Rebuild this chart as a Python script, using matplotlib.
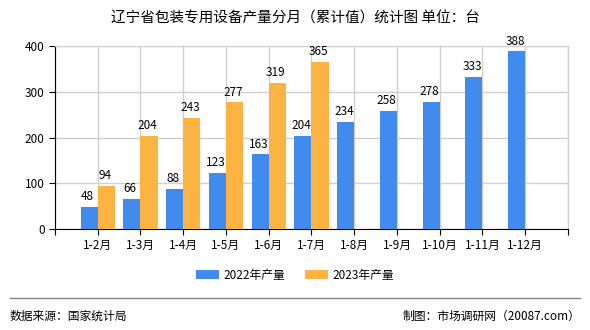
import numpy as np
import matplotlib.pyplot as plt

plt.rcParams['font.family'] = ['Noto Sans CJK SC', 'DejaVu Sans']

# 数据
months = ["1-2月", "1-3月", "1-4月", "1-5月", "1-6月", "1-7月",
          "1-8月", "1-9月", "1-10月", "1-11月", "1-12月"]
v2022 = [48, 66, 88, 123, 163, 204, 234, 258, 278, 333, 388]
v2023 = [94, 204, 243, 277, 319, 365]

c2022 = "#418BEE"
c2023 = "#FBB341"

fig = plt.figure(figsize=(5.9, 3.3), dpi=100)
ax = fig.add_axes([0.0932, 0.306, 0.8695, 0.5546])

x = np.arange(len(months))
w = 0.4
b1 = ax.bar(x[:len(v2022)] - w / 2, v2022, width=w, color=c2022, label="2022年产量", zorder=3)
b2 = ax.bar(x[:len(v2023)] + w / 2, v2023, width=w, color=c2023, label="2023年产量", zorder=3)

for rect, v in zip(b1, v2022):
    ax.text(rect.get_x() + rect.get_width() / 2 - 0.04, v + 8, str(v),
            ha="center", va="bottom", fontsize=8.5, zorder=4)
for rect, v in zip(b2, v2023):
    ax.text(rect.get_x() + rect.get_width() / 2 - 0.04, v + 8, str(v),
            ha="center", va="bottom", fontsize=8.5, zorder=4)

ax.set_xlim(-1, 11)
ax.set_ylim(0, 400)
ax.set_xticks(np.arange(-1, 12))
ax.set_xticklabels([""] + months + [""], fontsize=8.5)
ax.set_yticks([0, 100, 200, 300, 400])
ax.tick_params(axis="y", labelsize=8.5, length=4)
ax.tick_params(axis="x", length=4)
ax.grid(True, color="#d0d0d0", linewidth=1, zorder=0)
ax.spines["top"].set_color("#d0d0d0")
ax.spines["right"].set_color("#d0d0d0")
ax.spines["left"].set_color("black")
ax.spines["bottom"].set_color("black")

fig.text(0.5, 0.945, "辽宁省包装专用设备产量分月（累计值）统计图 单位：台",
         ha="center", va="center", fontsize=10.5)

fig.legend(handles=[b1, b2], loc="center", bbox_to_anchor=(0.5, 0.165), ncol=2,
           frameon=False, fontsize=8.5, handlelength=2.0, handleheight=0.8,
           handletextpad=0.4, columnspacing=1.6)

fig.add_artist(plt.Line2D([10 / 590, 580 / 590], [1 - 298 / 330, 1 - 298 / 330],
                          color="#888888", linewidth=1))
fig.text(10 / 590, 1 - 316 / 330, "数据来源：国家统计局", ha="left", va="center", fontsize=8.5)
fig.text(580 / 590, 1 - 316 / 330, "制图：市场调研网（20087.com）", ha="right", va="center", fontsize=8.5)

fig.savefig("out.png", dpi=100)
